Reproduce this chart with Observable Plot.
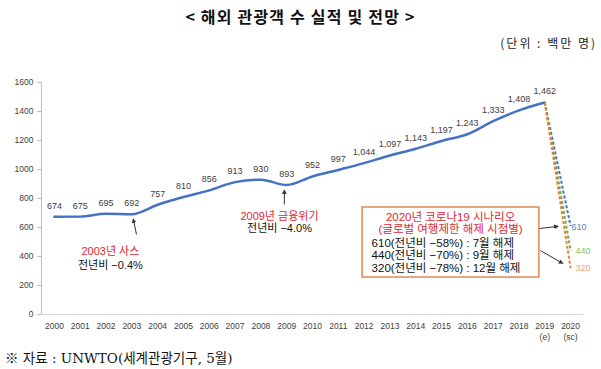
<!DOCTYPE html>
<html>
<head>
<meta charset="utf-8">
<script src="https://cdn.jsdelivr.net/npm/d3@7"></script>
<script src="https://cdn.jsdelivr.net/npm/@observablehq/plot@0.6"></script>
<style>
  body { margin: 0; background: #fff; }
  #wrap { position: relative; width: 601px; height: 369px; overflow: hidden; background: #fff; }
  #wrap svg { position: absolute; left: 0; top: 0; }
  .title { position: absolute; left: 0; width: 601px; top: 4px; text-align: center;
    font: bold 16px "Noto Sans CJK KR", sans-serif; letter-spacing: 1.2px; color: #111; }
  .unit { position: absolute; right: 4px; top: 34px; font: 12px "Noto Sans CJK KR", sans-serif; letter-spacing: 2px; color: #222; }
  .source { position: absolute; left: 5px; top: 347px; font: 13.5px "DejaVu Serif", "Noto Sans CJK KR", serif; color: #111; }
</style>
</head>
<body>
<div id="wrap">
  <div class="title">&lt; 해외 관광객 수 실적 및 전망 &gt;</div>
  <div class="unit">(단위 : 백만 명)</div>
  <div class="source">※ 자료 : UNWTO(세계관광기구, 5월)</div>
</div>
<script>
// ---- data ----
const years = [2000,2001,2002,2003,2004,2005,2006,2007,2008,2009,2010,2011,2012,2013,2014,2015,2016,2017,2018,2019];
const visitors = [674,675,695,692,757,810,856,913,930,893,952,997,1044,1097,1143,1197,1243,1333,1408,1462];
const tickYears = [2000,2001,2002,2003,2004,2005,2006,2007,2008,2009,2010,2011,2012,2013,2014,2015,2016,2017,2018,2019,2020];
const tickSuffix = {2019: "(e)", 2020: "(sc)"};
const scenarioYear = 2020;
const scenarioValues = [610, 440, 320];
const scenarioColors = ["#4472C4", "#70AD47", "#ED7D31"];
const scenarioLabelColors = ["#5B80C8", "#8CBB62", "#F2A56E"];
const yTicks = [0,200,400,600,800,1000,1200,1400,1600];

// annotations (data units)
const notes = [
  {x: 2002.17, y: 434, text: "2003년 사스", color: "#E3262E"},
  {x: 2002.17, y: 338, text: "전년비 −0.4%", color: "#111"},
  {x: 2008.72, y: 676, text: "2009년 금융위기", color: "#E3262E"},
  {x: 2008.72, y: 593, text: "전년비 −4.0%", color: "#111"}
];
const boxTitle = [
  {x: 2015.35, y: 669, text: "2020년 코로나19 시나리오"},
  {x: 2015.35, y: 586, text: "(글로벌 여행제한 해제 시점별)"}
];
const boxLines = [
  {x: 2012.29, y: 490, text: "610(전년비 −58%) : 7월 해제"},
  {x: 2012.29, y: 407, text: "440(전년비 −70%) : 9월 해제"},
  {x: 2012.29, y: 317, text: "320(전년비 −78%) : 12월 해제"}
];
const box = [{x1: 2011.94, x2: 2018.79, y1: 255, y2: 738}];
const arrows = [
  {x1: 2003.18, y1: 552, x2: 2003.06, y2: 655},
  {x1: 2008.91, y1: 759, x2: 2008.91, y2: 855},
  {x1: 2018.79, y1: 593, x2: 2019.50, y2: 607},
  {x1: 2018.83, y1: 441, x2: 2019.68, y2: 354}
];

const series = years.map((y, i) => ({year: y, value: visitors[i]}));
const last = series[series.length - 1];
const scen = scenarioValues.map((v, i) => ({i, x1: last.year, y1: last.value, x2: scenarioYear, y2: v, color: scenarioColors[i], lc: scenarioLabelColors[i]}));
const fmt = d3.format(",");
const FONT = '"Liberation Sans", "Noto Sans CJK KR", sans-serif';

const plot = Plot.plot({
  width: 601,
  height: 369,
  marginTop: 82,
  marginBottom: 55,
  marginLeft: 41,
  marginRight: 18,
  style: {fontFamily: FONT, background: "transparent", overflow: "visible"},
  x: {type: "linear", domain: [1999.5, 2020.5]},
  y: {domain: [0, 1600]},
  marks: [
    Plot.ruleY([0], {stroke: "#d9d9d9", strokeWidth: 1}),
    Plot.ruleX([1999.5], {y1: 0, y2: 1600, stroke: "#bfbfbf", strokeWidth: 1}),
    Plot.axisY({ticks: yTicks, tickSize: 4, tickPadding: 4, fontSize: 8.5, stroke: "#bfbfbf", fill: "#404040", tickFormat: d => `${d}`}),
    Plot.axisX({ticks: tickYears, tickSize: 0, tickPadding: 6, fontSize: 8.5, fill: "#404040", lineHeight: 1.35,
      tickFormat: d => tickSuffix[d] ? `${d}\n${tickSuffix[d]}` : `${d}`}),
    Plot.line(series, {x: "year", y: "value", stroke: "#4472C4", strokeWidth: 2.5, curve: "monotone-x"}),
    Plot.link(scen, {x1: "x1", y1: "y1", x2: "x2", y2: "y2", stroke: "color", strokeWidth: 2, strokeDasharray: "3,2"}),
    Plot.text(series, {x: "year", y: "value", text: d => fmt(d.value), dy: -11, fontSize: 9, fill: "#404040"}),
    Plot.text(scen.slice(0, 1), {x: "x2", y: "y2", text: d => `${d.y2}`, fill: "lc", fontSize: 9, textAnchor: "start", dx: 1, dy: 1}),
    Plot.text(scen.slice(1), {x: "x2", y: "y2", text: d => `${d.y2}`, fill: "lc", fontSize: 9, textAnchor: "start", dx: 5, dy: 0}),
    Plot.rect(box, {x1: "x1", x2: "x2", y1: "y1", y2: "y2", fill: "white", stroke: "#D9773A", strokeWidth: 1.3}),
    Plot.text(notes, {x: "x", y: "y", text: "text", fill: "color", fontSize: 11}),
    Plot.text(boxTitle, {x: "x", y: "y", text: "text", fill: "#E3262E", fontSize: 11.5, letterSpacing: "0.4px"}),
    Plot.text(boxLines, {x: "x", y: "y", text: "text", fill: "#111", fontSize: 11.5, textAnchor: "start", letterSpacing: "0.35px"}),
    Plot.link(arrows, {x1: "x1", y1: "y1", x2: "x2", y2: "y2", stroke: "#333", strokeWidth: 1, markerEnd: "arrow"})
  ]
});

// fill arrow heads as triangles
d3.select(plot).selectAll("marker").attr("fill", "#333").attr("stroke", "none")
  .selectAll("path").attr("d", "M-6,-4L2,0L-6,4Z");

document.getElementById("wrap").prepend(plot);
</script>
</body>
</html>
